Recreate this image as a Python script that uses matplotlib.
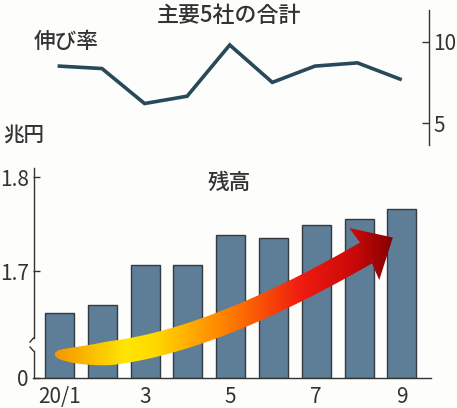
import matplotlib.pyplot as plt
import numpy as np
from matplotlib.path import Path
from matplotlib.patches import PathPatch
from matplotlib.colors import LinearSegmentedColormap

plt.rcParams['font.family'] = ['Noto Sans CJK JP', 'DejaVu Sans']

# data
months = ['20/1', '2', '3', '4', '5', '6', '7', '8', '9']
growth = [8.5, 8.35, 6.2, 6.65, 9.8, 7.5, 8.5, 8.7, 7.7]       # 伸び率 (%)
balance = [1.655, 1.664, 1.707, 1.707, 1.739, 1.735, 1.749, 1.756, 1.766]  # 残高 (兆円)
tick_idx = [0, 2, 4, 6, 8]
tick_lab = ['20/1', '3', '5', '7', '9']

W, H = 457, 408
bg = '#fdfdfb'
num_font = ['Liberation Sans Narrow', 'Noto Sans CJK JP', 'DejaVu Sans']
x = np.arange(len(months))

fig = plt.figure(figsize=(W / 100, H / 100), dpi=100, facecolor=bg)


def px_rect(l, t, r, b):
    return [l / W, 1 - b / H, (r - l) / W, (b - t) / H]


# top: growth line
ax1 = fig.add_axes(px_rect(33, 10, 429, 145))
ax1.set_facecolor('none')
ax1.plot(x, growth, color='#27495a', lw=2.6, solid_joinstyle='miter')
ax1.set_xlim(-0.62, 8.68)
ax1.set_ylim(3.65, 11.95)
for s in ['top', 'left', 'bottom']:
    ax1.spines[s].set_visible(False)
ax1.spines['right'].set_color('#333333')
ax1.spines['right'].set_linewidth(1)
ax1.set_xticks([])
ax1.yaxis.tick_right()
ax1.set_yticks([5, 10])
ax1.tick_params(axis='y', direction='in', length=5, width=1, color='#333333', pad=3,
                labelsize=15, labelcolor='#333333')
for t in ax1.get_yticklabels():
    t.set_family(num_font)

# bottom: balance bars
ax2 = fig.add_axes(px_rect(33, 168, 431, 378))
ax2.set_facecolor('none')
y0 = 1.586
ax2.bar(x, np.array(balance) - y0, bottom=y0, width=0.68, color='#5e7e98',
        edgecolor='#333b40', linewidth=1.0, zorder=2)
ax2.set_xlim(-0.62, 8.68)
ax2.set_ylim(y0, 1.81)
for s in ['top', 'right', 'left']:
    ax2.spines[s].set_visible(False)
ax2.spines['bottom'].set_color('#333333')
ax2.spines['bottom'].set_linewidth(1)
ax2.set_yticks([y0, 1.7, 1.8])
ax2.set_yticklabels(['0', '1.7', '1.8'])
ax2.tick_params(axis='y', direction='in', length=5, width=1, color='#333333', pad=3,
                labelsize=15, labelcolor='#333333')
ax2.set_xticks(tick_idx)
ax2.set_xticklabels(tick_lab)
ax2.tick_params(axis='x', length=0, pad=6, labelsize=15, labelcolor='#333333')
for t in ax2.get_yticklabels() + ax2.get_xticklabels():
    t.set_family(num_font)

# overlay in pixel coordinates for spine break and arrow
ov = fig.add_axes([0, 0, 1, 1])
ov.set_xlim(0, W)
ov.set_ylim(H, 0)
ov.axis('off')
ov.patch.set_alpha(0)

sx = 33.5
ov.plot([sx, sx], [168, 338], color='#333333', lw=1)
ov.plot([sx, sx], [351, 378], color='#333333', lw=1)
ov.plot([sx, sx - 3.5], [338, 342], color='#333333', lw=1)
ov.plot([sx, sx - 3.5], [351, 347], color='#333333', lw=1)

# curved gradient arrow
P0 = np.array([55.0, 354.0])
P1 = np.array([170.0, 366.0])
P2 = np.array([366.0, 253.0])
t = np.linspace(0, 1, 80)
c = (1 - t)[:, None] ** 2 * P0 + 2 * ((1 - t) * t)[:, None] * P1 + (t ** 2)[:, None] * P2
d = 2 * (1 - t)[:, None] * (P1 - P0) + 2 * t[:, None] * (P2 - P1)
d /= np.linalg.norm(d, axis=1)[:, None]
n = np.column_stack([d[:, 1], -d[:, 0]])
half = 10.5 * np.clip(t / 0.22, 0, 1) ** 0.5 + 1.5
up = c + n * half[:, None]
lo = c - n * half[:, None]
tip_dir = d[-1]
tip_n = np.array([tip_dir[1], -tip_dir[0]])
tip = P2 + tip_dir * 31
barb1 = P2 + tip_n * 30 - tip_dir * 2
barb2 = P2 - tip_n * 30 - tip_dir * 2
poly = np.vstack([up, barb1, tip, barb2, lo[::-1]])
codes = [Path.MOVETO] + [Path.LINETO] * (len(poly) - 1)
patch = PathPatch(Path(np.vstack([poly, poly[:1]]), codes + [Path.CLOSEPOLY]),
                  facecolor='none', edgecolor='none')
ov.add_patch(patch)
cmap = LinearSegmentedColormap.from_list('arr', [
    (0.0, '#f59000'), (0.22, '#ffe600'), (0.3, '#ffd800'), (0.52, '#ff7a00'),
    (0.72, '#f01c10'), (0.88, '#c80808'), (1.0, '#7a0000')])
grad = np.linspace(0, 1, 256)[None, :]
im = ov.imshow(grad, extent=[50, 398, 380, 215], cmap=cmap, aspect='auto', zorder=3)
im.set_clip_path(patch)

# texts
def ftext(px, py, s, size, ha='left'):
    fig.text(px / W, 1 - py / H, s, fontsize=size, ha=ha, va='center', color='#333333',
             fontweight='medium')


ftext(229, 16, '主要5社の合計', 15.8, ha='center')
ftext(34, 42, '伸び率', 15.6)
ftext(3, 135, '兆円', 14.8)
ftext(229, 183, '残高', 15.6, ha='center')

fig.savefig('out.png', dpi=100, facecolor=bg)
